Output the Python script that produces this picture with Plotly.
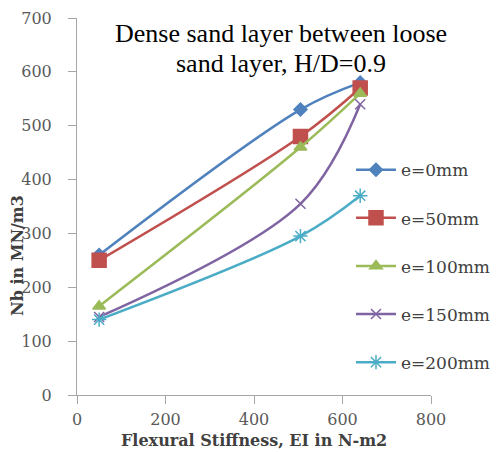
import plotly.graph_objects as go

stiffness = [50, 505, 640]
series_names = ["e=0mm", "e=50mm", "e=100mm", "e=150mm", "e=200mm"]
nb_e0 = [260, 530, 580]
nb_e50 = [250, 480, 570]
nb_e100 = [165, 460, 560]
nb_e150 = [145, 355, 540]
nb_e200 = [140, 295, 370]
values = [nb_e0, nb_e50, nb_e100, nb_e150, nb_e200]
x_ticks = [0, 200, 400, 600, 800]
y_ticks = [0, 100, 200, 300, 400, 500, 600, 700]
title_lines = ["Dense sand layer between loose", "sand layer, H/D=0.9"]
x_title = "Flexural Stiffness, EI in N-m2"
y_title = "Nb in MN/m3"

colors = ["#4F81BD", "#C0504D", "#9BBB59", "#8064A2", "#4BACC6"]
symbols = ["diamond", "square", "triangle-up", "x-thin-open", "asterisk-open"]
sizes = [10, 14, 11, 10, 12]

fig = go.Figure()
for i, (name, vals) in enumerate(zip(series_names, values)):
    fig.add_trace(go.Scatter(
        x=stiffness, y=vals, name=name, mode="lines+markers",
        line=dict(color=colors[i], width=2.5, shape="spline", smoothing=1.0),
        marker=dict(symbol=symbols[i], size=sizes[i], color=colors[i],
                    line=dict(color=colors[i], width=1.5)),
        legendgroup=name,
    ))

tfont = "Liberation Serif"
sfont = "DejaVu Serif"
fig.update_layout(
    width=500, height=452,
    margin=dict(l=69, r=77, t=10, b=65, autoexpand=False),
    paper_bgcolor="white", plot_bgcolor="white",
    font=dict(family=sfont, size=16, color="#404040"),
    showlegend=True,
    legend=dict(x=0.774, y=0.644, xanchor="left", yanchor="top",
                bgcolor="rgba(0,0,0,0)", tracegroupgap=23,
                font=dict(family=sfont, size=17, color="#404040"),
                itemwidth=40),
    xaxis=dict(range=[0, 800], tickvals=x_ticks,
               showgrid=False, zeroline=False, showline=True, automargin=False,
               linecolor="#A6A6A6", linewidth=1, ticks="outside",
               tickcolor="#A6A6A6", ticklen=8, ticklabelstandoff=2,
               tickfont=dict(family=sfont, size=16, color="#595959")),
    yaxis=dict(range=[0, 700], tickvals=y_ticks,
               showgrid=False, zeroline=False, showline=True, automargin=False,
               linecolor="#A6A6A6", linewidth=1, ticks="outside",
               tickcolor="#A6A6A6", ticklen=8, ticklabelstandoff=13,
               tickfont=dict(family=sfont, size=16, color="#595959")),
    annotations=[
        dict(text=title_lines[0], xref="paper", yref="paper", x=0.576, y=0.9576,
             xanchor="center", yanchor="middle", showarrow=False,
             font=dict(family=tfont, size=26, color="#000000")),
        dict(text=title_lines[1], xref="paper", yref="paper", x=0.576, y=0.878,
             xanchor="center", yanchor="middle", showarrow=False,
             font=dict(family=tfont, size=26, color="#000000")),
        dict(text="<b>" + x_title + "</b>", xref="paper", yref="paper", x=0.5, y=-0.122,
             xanchor="center", yanchor="middle", showarrow=False,
             font=dict(family=sfont, size=16, color="#404040")),
        dict(text="<b>" + y_title + "</b>", xref="paper", yref="paper", x=-0.1667, y=0.3714,
             xanchor="center", yanchor="middle", showarrow=False, textangle=-90,
             font=dict(family=sfont, size=16, color="#404040")),
    ],
)

fig.write_html("out.html")
